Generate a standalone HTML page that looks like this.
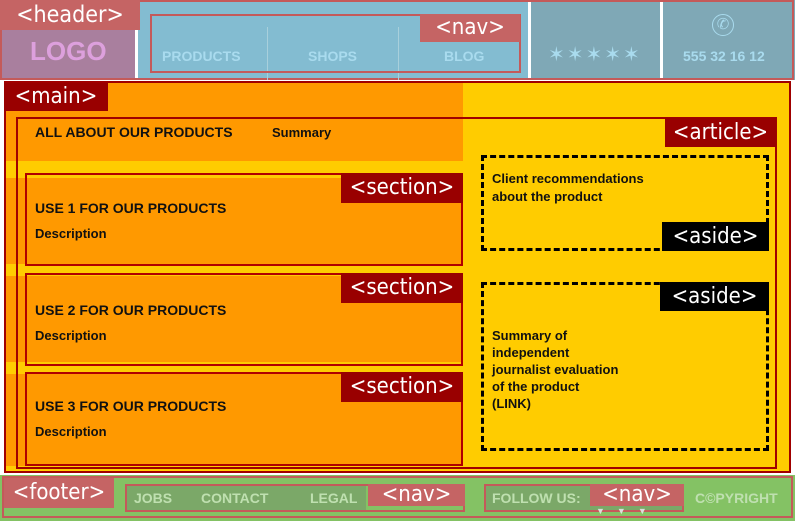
<!DOCTYPE html>
<html><head><style>
body{margin:0;width:795px;height:521px;position:relative;overflow:hidden;background:#fff;font-family:"Liberation Sans",sans-serif}
div{position:absolute;box-sizing:border-box}
.lbl{color:#fff;font-size:22px;line-height:1;display:flex;align-items:center;justify-content:center;font-family:"DejaVu Sans Condensed","Liberation Sans",sans-serif}
.t{font-weight:bold;font-size:14px;color:#111;white-space:nowrap}
.n{font-weight:bold;font-size:14px;white-space:nowrap}
</style></head><body>
<!-- header -->
<div style="left:0;top:0;width:795px;height:80px;background:#83bcd1"></div>
<div style="left:0;top:30px;width:135px;height:50px;background:#a97f9e"></div>
<div style="left:528px;top:0;width:267px;height:80px;background:#7fa8b6"></div>
<div style="left:135px;top:30px;width:3px;height:50px;background:#fff"></div>
<div style="left:528px;top:0;width:3px;height:80px;background:#fff"></div>
<div style="left:660px;top:0;width:3px;height:80px;background:#fff"></div>
<div style="left:0;top:0;width:794px;height:80px;border:2px solid #c45a5a"></div>
<div class="lbl" style="left:0;top:0;width:140px;height:30px;background:#c56464;font-size:23px">&lt;header&gt;</div>
<div style="left:30px;top:36px;font-size:26px;font-weight:bold;color:#dda0dd">LOGO</div>
<div style="left:267px;top:27px;width:1px;height:53px;background:#a8d0dc"></div>
<div style="left:398px;top:27px;width:1px;height:53px;background:#a8d0dc"></div>
<div style="left:150px;top:14px;width:371px;height:59px;border:2px solid #c45a5a"></div>
<div class="lbl" style="left:420px;top:14px;width:100px;height:28px;background:#c56464">&lt;nav&gt;</div>
<div class="n" style="left:162px;top:48px;color:#a9dbee">PRODUCTS</div>
<div class="n" style="left:308px;top:48px;color:#a9dbee">SHOPS</div>
<div class="n" style="left:444px;top:48px;color:#a9dbee">BLOG</div>
<div style="left:548px;top:42px;font-size:20px;color:#a9dbee;letter-spacing:2px">✶✶✶✶✶</div>
<div style="left:712px;top:14px;width:22px;height:22px;border:1.5px solid #a9dbee;border-radius:50%;color:#a9dbee;font-size:15px;text-align:center;line-height:20px">✆</div>
<div class="n" style="left:683px;top:48px;color:#a9dbee">555 32 16 12</div>
<!-- main -->
<div style="left:4px;top:81px;width:787px;height:392px;background:#ffcc00"></div>
<div style="left:4px;top:81px;width:459px;height:392px;background:#ff9900"></div>
<div style="left:4px;top:161px;width:459px;height:17px;background:#ffcc00"></div>
<div style="left:4px;top:264px;width:459px;height:12px;background:#ffcc00"></div>
<div style="left:4px;top:362px;width:459px;height:12px;background:#ffcc00"></div>
<div style="left:4px;top:466px;width:459px;height:7px;background:#ffcc00"></div>
<div style="left:4px;top:81px;width:787px;height:392px;border:2px solid #a00000"></div>
<div class="lbl" style="left:4px;top:83px;width:104px;height:28px;background:#990000">&lt;main&gt;</div>
<div style="left:16px;top:117px;width:761px;height:352px;border:2px solid #a00000"></div>
<div class="lbl" style="left:665px;top:118px;width:111px;height:29px;background:#990000">&lt;article&gt;</div>
<div class="t" style="left:35px;top:124px">ALL ABOUT OUR PRODUCTS</div>
<div class="t" style="left:272px;top:125px;font-size:13px">Summary</div>
<!-- sections -->
<div style="left:25px;top:173px;width:438px;height:93px;border:2px solid #b00000"></div>
<div class="lbl" style="left:341px;top:173px;width:122px;height:30px;background:#990000">&lt;section&gt;</div>
<div class="t" style="left:35px;top:200px">USE 1 FOR OUR PRODUCTS</div>
<div class="t" style="left:35px;top:226px;font-size:13px">Description</div>
<div style="left:25px;top:273px;width:438px;height:93px;border:2px solid #b00000"></div>
<div class="lbl" style="left:341px;top:273px;width:122px;height:30px;background:#990000">&lt;section&gt;</div>
<div class="t" style="left:35px;top:302px">USE 2 FOR OUR PRODUCTS</div>
<div class="t" style="left:35px;top:328px;font-size:13px">Description</div>
<div style="left:25px;top:372px;width:438px;height:94px;border:2px solid #b00000"></div>
<div class="lbl" style="left:341px;top:372px;width:122px;height:30px;background:#990000">&lt;section&gt;</div>
<div class="t" style="left:35px;top:398px">USE 3 FOR OUR PRODUCTS</div>
<div class="t" style="left:35px;top:424px;font-size:13px">Description</div>
<!-- asides -->
<div style="left:481px;top:155px;width:288px;height:96px;border:3px dashed #000"></div>
<div class="lbl" style="left:662px;top:222px;width:107px;height:29px;background:#000">&lt;aside&gt;</div>
<div class="t" style="left:492px;top:170px;font-size:13px;line-height:18px">Client recommendations<br>about the product</div>
<div style="left:481px;top:282px;width:288px;height:169px;border:3px dashed #000"></div>
<div class="lbl" style="left:660px;top:282px;width:109px;height:29px;background:#000">&lt;aside&gt;</div>
<div class="t" style="left:492px;top:327px;font-size:13px;line-height:17px">Summary of<br>independent<br>journalist evaluation<br>of the product<br>(LINK)</div>
<!-- footer -->
<div style="left:0;top:475px;width:795px;height:46px;background:#84c264"></div>
<div style="left:2px;top:476px;width:791px;height:42px;border:2px solid #c45a5a"></div>
<div class="lbl" style="left:4px;top:478px;width:110px;height:30px;background:#c56464">&lt;footer&gt;</div>
<div style="left:125px;top:484px;width:241px;height:28px;background:#7ba868"></div>
<div style="left:125px;top:484px;width:340px;height:28px;border:2px solid #c45a5a"></div>
<div class="lbl" style="left:368px;top:484px;width:97px;height:22px;background:#c56464">&lt;nav&gt;</div>
<div class="n" style="left:134px;top:490px;color:#bfe0b0">JOBS</div>
<div class="n" style="left:201px;top:490px;color:#bfe0b0">CONTACT</div>
<div class="n" style="left:310px;top:490px;color:#bfe0b0">LEGAL</div>
<div style="left:484px;top:484px;width:200px;height:28px;background:#7ba868;border:2px solid #c45a5a"></div>
<div class="lbl" style="left:590px;top:484px;width:94px;height:22px;background:#c56464">&lt;nav&gt;</div>
<div class="n" style="left:492px;top:490px;color:#bfe0b0">FOLLOW US:</div>
<div style="left:596px;top:506px;font-size:9px;color:#ddd;letter-spacing:12px">▼▼▼</div>
<div class="n" style="left:695px;top:490px;color:#bfe0b0">C©PYRIGHT</div>
</body></html>
